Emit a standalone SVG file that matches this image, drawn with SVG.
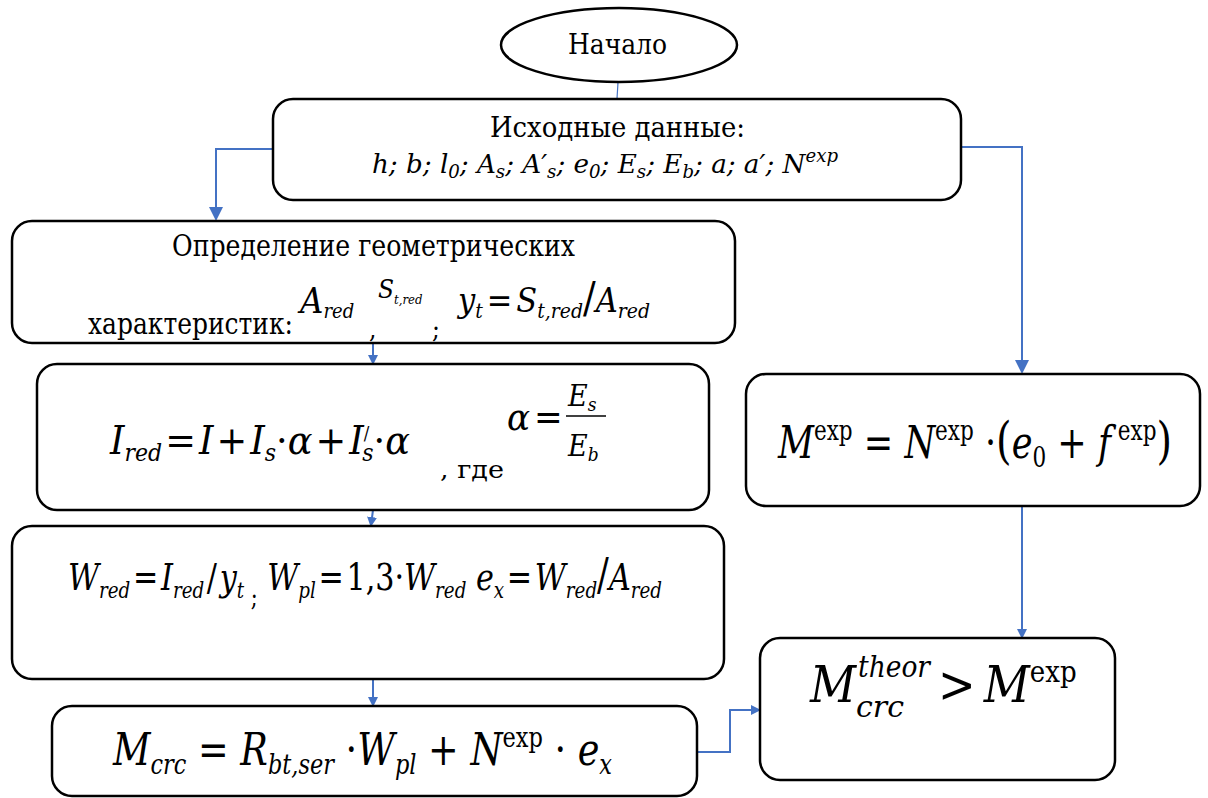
<svg xmlns="http://www.w3.org/2000/svg" width="1208" height="798" viewBox="0 0 1208 798">
<style>
.box{fill:#fff;stroke:#000;stroke-width:2.5}
.con{fill:none;stroke:#4472C4;stroke-width:2}
.t{font-family:'DejaVu Serif Condensed','DejaVu Serif',serif;font-stretch:condensed;fill:#000}
.m{font-family:'DejaVu Serif Condensed','DejaVu Serif',serif;font-stretch:condensed;font-style:italic;fill:#000}
.u{font-style:normal}
</style>
<defs>
<marker id="ah" markerWidth="10" markerHeight="10" refX="8" refY="5" orient="auto" markerUnits="userSpaceOnUse">
<path d="M0,0 L10,5 L0,10 z" fill="#4472C4"/>
</marker>
<marker id="ah2" markerWidth="14" markerHeight="14" refX="12" refY="7" orient="auto" markerUnits="userSpaceOnUse">
<path d="M0,0 L14,7 L0,14 z" fill="#4472C4"/>
</marker>
</defs>
<rect width="1208" height="798" fill="#fff"/>

<g id="connectors">
<line x1="618" y1="82" x2="617" y2="99" stroke="#4472C4" stroke-width="1.2"/>
<path class="con" d="M273,149 H216 V219" marker-end="url(#ah2)"/>
<path class="con" d="M961,147 H1022 V372" marker-end="url(#ah2)"/>
<path class="con" d="M373,344 V363" marker-end="url(#ah)"/>
<path class="con" d="M373,510 L371,525" marker-end="url(#ah)"/>
<path class="con" d="M373,679 V705" marker-end="url(#ah)"/>
<path class="con" d="M1022,506 V637" marker-end="url(#ah)"/>
<path class="con" d="M697,752 H730 V710 H759" marker-end="url(#ah)"/>
</g>

<g id="start">
<ellipse cx="619" cy="45" rx="118" ry="37" fill="#fff" stroke="#000" stroke-width="2.5"/>
<text class="t" x="568" y="54" font-size="28" textLength="99" lengthAdjust="spacingAndGlyphs">Начало</text>
</g>

<g id="input">
<rect class="box" x="273" y="99" width="688" height="101" rx="20"/>
<text class="t" x="490" y="137" font-size="28" textLength="255" lengthAdjust="spacingAndGlyphs">Исходные данные:</text>
<text class="m" x="372" y="173" font-size="26" textLength="466" lengthAdjust="spacingAndGlyphs">h; b; l<tspan dy="5" font-size="18">0</tspan><tspan dy="-5">; A</tspan><tspan dy="5" font-size="18">s</tspan><tspan dy="-5">; A′</tspan><tspan dy="5" font-size="18">s</tspan><tspan dy="-5">; e</tspan><tspan dy="5" font-size="18">0</tspan><tspan dy="-5">; E</tspan><tspan dy="5" font-size="18">s</tspan><tspan dy="-5">; E</tspan><tspan dy="5" font-size="18">b</tspan><tspan dy="-5">; a; a′; N</tspan><tspan dy="-11" font-size="18">exp</tspan></text>
</g>

<g id="geom">
<rect class="box" x="12" y="221" width="723" height="122" rx="20"/>
<text class="t" x="172" y="256" font-size="29" textLength="403" lengthAdjust="spacingAndGlyphs">Определение геометрических</text>
<text class="t" x="88" y="334" font-size="29" textLength="205" lengthAdjust="spacingAndGlyphs">характеристик:</text>
<text class="m" x="300" y="313" font-size="36">A<tspan dy="5" font-size="20">red</tspan></text>
<text class="t" x="369" y="338" font-size="26">,</text>
<text class="m" x="378" y="298" font-size="26">S<tspan dy="6" font-size="13">t,red</tspan></text>
<text class="t" x="432" y="338" font-size="26">;</text>
<text class="m" x="458" y="312" font-size="34" textLength="192" lengthAdjust="spacingAndGlyphs">y<tspan dy="6" font-size="21">t</tspan><tspan class="u" dy="-6" dx="4">=</tspan><tspan dx="4">S</tspan><tspan dy="6" font-size="21">t,red</tspan><tspan class="u" dy="-6" font-size="42">/</tspan>A<tspan dy="6" font-size="21">red</tspan></text>
</g>

<g id="ired">
<rect class="box" x="37" y="364" width="672" height="146" rx="20"/>
<text class="m" x="110" y="454" font-size="40" textLength="300" lengthAdjust="spacingAndGlyphs">I<tspan dy="7" font-size="24">red</tspan><tspan class="u" dy="-7" dx="3">=</tspan><tspan dx="3">I</tspan><tspan class="u" dx="3">+</tspan><tspan dx="3">I</tspan><tspan dy="7" font-size="24">s</tspan><tspan class="u" dy="-7">·</tspan>α<tspan class="u" dx="3">+</tspan><tspan dx="3">I</tspan><tspan class="u" dy="-14" font-size="18">/</tspan><tspan dx="-7" dy="21" font-size="24">s</tspan><tspan class="u" dy="-7">·</tspan>α</text>
<text class="t" x="440" y="478" font-size="24" textLength="64" lengthAdjust="spacingAndGlyphs">, где</text>
<text class="m" x="507" y="430" font-size="38">α<tspan class="u" dx="4">=</tspan></text>
<line x1="566" y1="416" x2="606" y2="416" stroke="#000" stroke-width="1.5"/>
<text class="m" x="568" y="406" font-size="30">E<tspan dy="5" font-size="19">s</tspan></text>
<text class="m" x="568" y="456" font-size="30">E<tspan dy="5" font-size="19">b</tspan></text>
</g>

<g id="wred">
<rect class="box" x="12" y="526" width="712" height="153" rx="20"/>
<text class="m" x="68" y="590" font-size="38" textLength="594" lengthAdjust="spacingAndGlyphs">W<tspan dy="8" font-size="23">red</tspan><tspan class="u" dy="-8" dx="3">=</tspan><tspan dx="3">I</tspan><tspan dy="8" font-size="23">red</tspan><tspan class="u" dy="-8" dx="3">/</tspan><tspan dx="3">y</tspan><tspan dy="8" font-size="23">t</tspan><tspan class="u" dy="8" font-size="26"> ;</tspan><tspan dy="-16"> W</tspan><tspan dy="8" font-size="23">pl</tspan><tspan class="u" dy="-8" dx="3">=</tspan><tspan class="u" dx="3">1,3·</tspan>W<tspan dy="8" font-size="23">red</tspan><tspan dy="-8"> e</tspan><tspan dy="8" font-size="23">x</tspan><tspan class="u" dy="-8" dx="3">=</tspan><tspan dx="3">W</tspan><tspan dy="8" font-size="23">red</tspan><tspan class="u" dy="-8" font-size="44">/</tspan>A<tspan dy="8" font-size="23">red</tspan></text>
</g>

<g id="mcrc">
<rect class="box" x="52" y="706" width="645" height="90" rx="20"/>
<text class="m" x="113" y="765" font-size="44" textLength="499" lengthAdjust="spacingAndGlyphs">M<tspan dy="9" font-size="27">crc</tspan><tspan class="u" dy="-9"> = </tspan>R<tspan dy="9" font-size="27">bt,ser</tspan><tspan class="u" dy="-9"> ·</tspan>W<tspan dy="9" font-size="27">pl</tspan><tspan class="u" dy="-9"> + </tspan>N<tspan class="u" dy="-18" font-size="27">exp</tspan><tspan class="u" dy="18"> · </tspan>e<tspan dy="9" font-size="27">x</tspan></text>
</g>

<g id="mexp">
<rect class="box" x="746" y="374" width="454" height="132" rx="20"/>
<text class="m" x="778" y="458" font-size="44" textLength="394" lengthAdjust="spacingAndGlyphs">M<tspan class="u" dy="-18" font-size="27">exp</tspan><tspan class="u" dy="18"> = </tspan>N<tspan class="u" dy="-18" font-size="27">exp</tspan><tspan class="u" dy="18"> ·</tspan><tspan class="u" font-size="50">(</tspan>e<tspan class="u" dy="9" font-size="27">0</tspan><tspan class="u" dy="-9"> + </tspan>f<tspan class="u" dy="-18" font-size="27"> exp</tspan><tspan class="u" dy="18" font-size="50">)</tspan></text>
</g>

<g id="theor">
<rect class="box" x="760" y="638" width="355" height="142" rx="20"/>
<text class="m" x="810" y="702" font-size="50">M</text>
<text class="m" x="858" y="677" font-size="29" textLength="72" lengthAdjust="spacingAndGlyphs">theor</text>
<text class="m" x="856" y="717" font-size="29" textLength="48" lengthAdjust="spacingAndGlyphs">crc</text>
<text class="m" x="938" y="702" font-size="50"><tspan class="u">&gt;</tspan><tspan dx="8">M</tspan><tspan class="u" dy="-20" font-size="29">exp</tspan></text>
</g>
</svg>
